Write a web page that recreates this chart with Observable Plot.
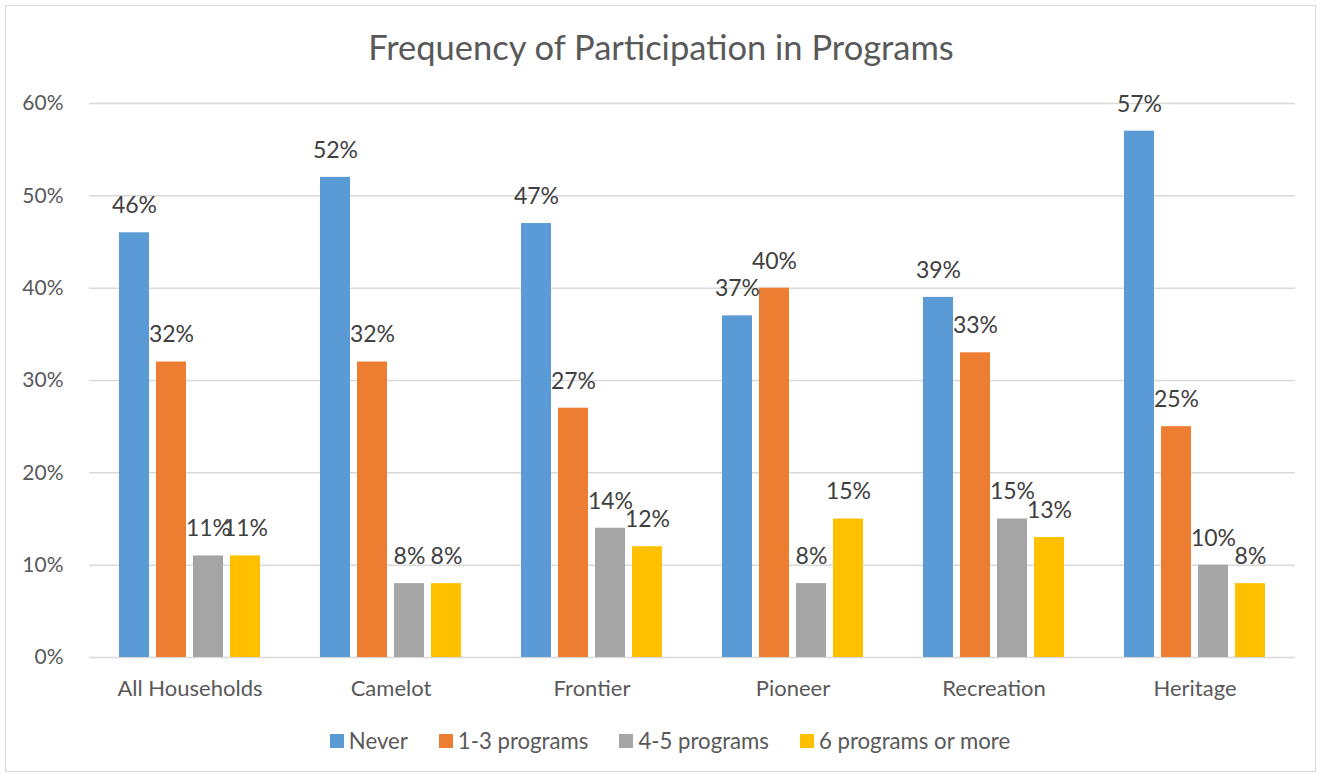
<!DOCTYPE html>
<html>
<head>
<meta charset="utf-8">
<script src="https://cdn.jsdelivr.net/npm/d3@7"></script>
<script src="https://cdn.jsdelivr.net/npm/@observablehq/plot@0.6"></script>
<style>
  html, body { margin: 0; padding: 0; background: #fff; }
  #wrap { position: relative; width: 1322px; height: 777px; font-family: Lato, "Open Sans", sans-serif; }
  #frame { position: absolute; left: 5px; top: 5px; width: 1311px; height: 767px; border: 1.5px solid #d9d9d9; box-sizing: border-box; }
  #title { position: absolute; left: 0; width: 1322px; top: 26px; text-align: center; font-size: 34.5px; color: #595959; }
  #chart { position: absolute; left: 0; top: 0; }
  #legend { position: absolute; left: 9px; width: 1322px; top: 727px; display: flex; justify-content: center; gap: 31px; font-size: 22.2px; color: #595959; }
  .item { display: flex; align-items: center; }
  .sw { width: 14px; height: 14px; margin-right: 5px; }
</style>
</head>
<body>
<div id="wrap">
  <div id="frame"></div>
  <div id="chart"></div>
  <div id="title">Frequency of Participation in Programs</div>
  <div id="legend"></div>
</div>
<script>
const groups = ["All Households", "Camelot", "Frontier", "Pioneer", "Recreation", "Heritage"];
const series = ["Never", "1-3 programs", "4-5 programs", "6 programs or more"];
const never = [46, 52, 47, 37, 39, 57];
const programs13 = [32, 32, 27, 40, 33, 25];
const programs45 = [11, 8, 14, 8, 15, 10];
const programs6plus = [11, 8, 12, 15, 13, 8];
const colors = ["#5B9BD5", "#ED7D31", "#A5A5A5", "#FFC000"];
const yTicks = [0, 0.1, 0.2, 0.3, 0.4, 0.5, 0.6];

const seriesValues = [never, programs13, programs45, programs6plus];
const data = [];
groups.forEach((g, gi) => {
  series.forEach((s, si) => {
    data.push({group: g, series: s, value: seriesValues[si][gi] / 100});
  });
});

const fmt = d3.format(".0%");

const chart = Plot.plot({
  width: 1322,
  height: 700,
  marginLeft: 87,
  marginRight: 26,
  marginTop: 103,
  marginBottom: 43,
  style: {fontFamily: "Lato, 'Open Sans', sans-serif", background: "transparent"},
  fx: {domain: groups, padding: 0, label: null},
  x: {domain: series, paddingInner: 0.2, paddingOuter: 0.8, axis: null},
  y: {domain: [0, 0.6], label: null},
  color: {domain: series, range: colors},
  marks: [
    Plot.gridY(yTicks, {stroke: "#d9d9d9", strokeOpacity: 1, strokeWidth: 1.5}),
    Plot.axisY(yTicks, {tickSize: 0, tickPadding: 26, tickFormat: fmt, fontSize: 21, fill: "#595959", label: null}),
    Plot.axisFx({anchor: "bottom", tickSize: 0, tickPadding: 23, fontSize: 22, fill: "#595959", label: null}),
    Plot.barY(data, {fx: "group", x: "series", y: "value", fill: "series"}),
    Plot.text(data, {fx: "group", x: "series", y: "value", text: d => fmt(d.value), dy: -27, fontSize: 23, fill: "#404040"})
  ]
});
document.getElementById("chart").appendChild(chart);

const legend = document.getElementById("legend");
series.forEach((s, i) => {
  const item = document.createElement("div");
  item.className = "item";
  const sw = document.createElement("div");
  sw.className = "sw";
  sw.style.background = colors[i];
  const label = document.createElement("span");
  label.textContent = s;
  item.appendChild(sw);
  item.appendChild(label);
  legend.appendChild(item);
});
</script>
</body>
</html>
